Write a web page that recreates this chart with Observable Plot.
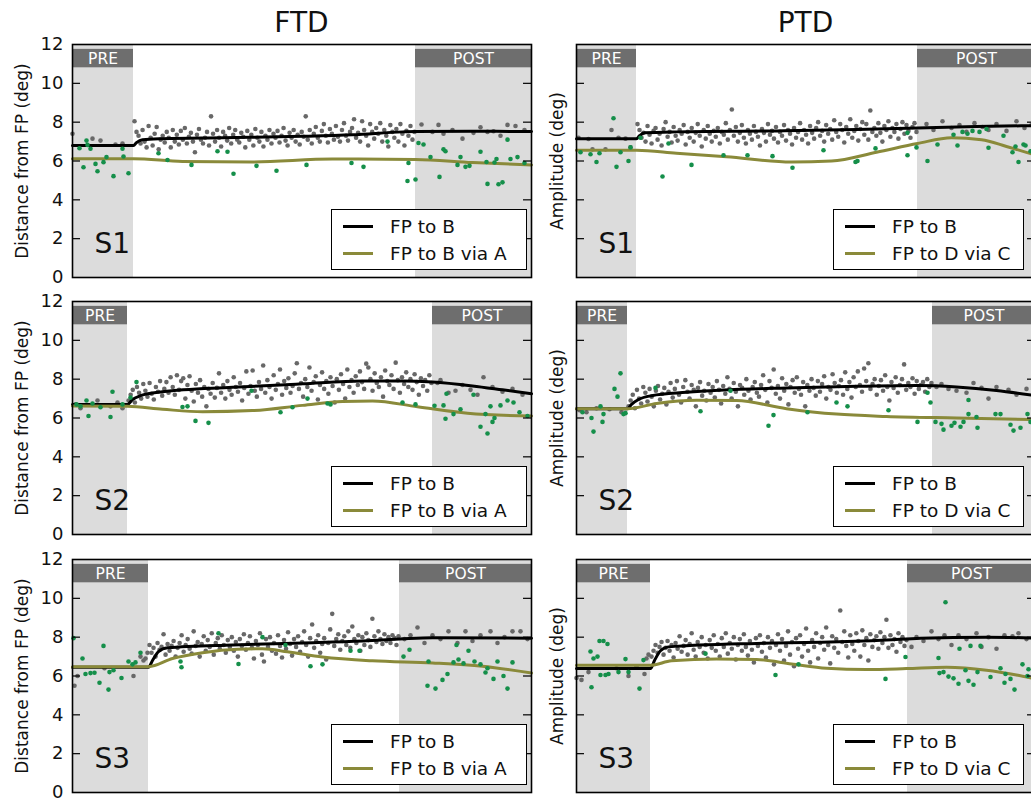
<!DOCTYPE html>
<html>
<head>
<meta charset="utf-8">
<script src="https://cdn.jsdelivr.net/npm/d3@7"></script>
<script src="https://cdn.jsdelivr.net/npm/@observablehq/plot@0.6"></script>
<style>
  html, body { margin: 0; padding: 0; background: #fff; overflow: hidden; }
  #root { position: relative; width: 1031px; height: 802px; overflow: hidden; font-family: "DejaVu Sans", sans-serif; }
  .title { position: absolute; top: 6px; font-size: 28px; color: #111; transform: translateX(-50%); }
  .ylab { position: absolute; font-size: 17px; color: #111; white-space: nowrap; transform: translate(-50%, -50%) rotate(-90deg); }
  .legend { position: absolute; background: #fff; border: 1.5px solid #000; box-sizing: border-box; }
  .legend .row { position: absolute; left: 0; height: 24px; display: flex; align-items: center; font-size: 18.5px; color: #111; white-space: nowrap; }
  .legend .sw { width: 30px; height: 3px; margin-left: 11px; margin-right: 17px; }
</style>
</head>
<body>
<div id="root"></div>
<script>
// ---------- shared ----------
const columnTitles = ["FTD", "PTD"];
const columnYLabels = ["Distance from FP (deg)", "Amplitude (deg)"];
const subjects = ["S1", "S2", "S3"];
const seriesNames = ["FP to B", "FP to B via A", "FP to D via C"];
const yTicks = [0, 2, 4, 6, 8, 10, 12];
const phaseNames = ["PRE", "POST"];
const trialDomain = [0, 459];

// ---------- FTD S1 ----------
const ftdS1Phase = [61, 343];
const ftdS1Black = [[0,6.8],[61,6.8],[64,6.95],[70,7.1],[90,7.15],[150,7.2],[230,7.27],[280,7.35],[330,7.5],[343,7.52],[400,7.53],[459,7.52]];
const ftdS1Olive = [[0,6.12],[61,6.12],[110,5.98],[180,5.95],[260,6.1],[343,6.08],[400,5.92],[459,5.8]];
const ftdS1GrayMain = [8.05,7.5,7.3,6.9,7.6,7.0,6.7,7.8,7.2,6.8,7.4,7.75,6.6,7.1,7.3,6.95,7.5,7.2,6.7,7.6,
7.0,7.35,6.85,7.55,7.1,7.7,6.9,7.25,7.45,7.0,6.45,7.35,7.65,7.1,6.9,7.2,7.5,6.8,8.3,7.4,
7.0,7.6,7.2,6.75,7.5,7.3,7.05,7.7,6.9,7.35,7.6,7.1,6.95,7.45,7.25,6.7,7.55,7.1,7.35,6.8,
7.65,7.2,7.0,7.5,6.75,7.3,7.1,7.6,6.9,7.4,7.2,7.55,6.95,7.3,7.7,7.05,6.8,7.45,7.2,7.6,
7.0,7.35,6.85,7.5,7.25,8.3,7.1,7.6,6.9,7.4,7.75,7.2,7.0,7.55,7.9,7.3,6.95,7.65,7.4,7.1,
7.8,7.25,7.0,7.6,7.95,7.3,7.05,7.5,7.7,8.15,7.2,7.45,7.0,8.05,7.6,7.3,6.8,7.9,7.5,7.15,
7.7,7.4,7.95,7.0,7.6,7.3,6.75,7.85,7.5,7.2,7.65,7.0,7.9,7.4,6.8,7.55,7.3,7.8,7.1,7.5];
const ftdS1GrayOther = [[0,7.4],[20,7.15],[28,7.05],[43,6.85],[50,6.9],[349,7.88],[360,7.5],[366,7.86],[371,7.4],[380,7.6],[390,7.15],[401,7.45],[408,7.74],[415,7.5],[421,7.53],[428,7.3],[435,7.86],[443,7.8],[452,7.6]];
const ftdS1Green = [[7,6.66],[11,5.68],[14,7.05],[15,6.83],[18,6.63],[23,5.85],[25,5.47],[31,5.94],[34,6.2],[41,5.22],[50,6.63],[51,6.23],[56,5.37],
[86,6.4],[95,6.05],[119,5.8],[145,6.5],[155,6.48],[161,5.34],[184,5.75],[204,5.5],[234,5.8],[279,5.9],[291,5.7],[315,7.0],[336,5.9],[335,4.97],[343,5.05],
[346,6.93],[351,6.85],[358,6.2],[367,5.18],[371,6.6],[373,6.5],[385,5.8],[388,6.2],[393,5.7],[397,5.75],[408,6.48],[414,5.95],[415,4.82],[422,5.92],[424,6.1],[426,4.8],[430,4.9],[435,7.1],[438,6.1],[445,6.2],[452,5.9]];

// ---------- PTD S1 ----------
const ptdS1Phase = [60, 341];
const ptdS1Black = [[0,7.15],[60,7.15],[63,7.3],[68,7.45],[100,7.5],[200,7.55],[280,7.62],[341,7.7],[400,7.78],[459,7.82]];
const ptdS1Olive = [[0,6.55],[60,6.55],[100,6.4],[150,6.22],[215,5.95],[255,6.0],[300,6.45],[341,6.9],[375,7.2],[405,7.1],[430,6.75],[459,6.3]];
const ptdS1GrayMain = [7.9,7.6,7.2,7.45,7.0,7.8,7.35,6.9,7.55,7.7,7.1,7.4,6.8,7.65,8.0,7.25,7.5,6.95,7.75,7.3,
7.05,7.6,7.4,7.85,6.85,7.5,7.2,7.7,7.0,7.45,7.9,7.3,6.75,7.6,7.15,7.8,7.4,7.0,7.55,7.25,
7.7,6.9,7.5,7.35,7.95,7.1,7.6,8.65,7.3,7.75,7.0,7.45,7.85,7.2,6.9,7.6,7.4,7.1,7.8,7.5,
7.25,6.8,7.65,7.45,7.0,7.9,7.35,7.55,7.15,7.75,6.95,7.5,7.3,7.85,7.05,7.6,7.4,6.85,7.7,7.2,
7.5,7.95,7.1,7.6,7.35,6.9,7.8,7.45,7.15,7.7,8.0,7.3,7.55,7.0,7.85,7.4,7.65,7.1,8.1,7.5,
7.25,7.9,7.6,6.95,7.75,7.4,8.15,7.2,7.55,7.8,7.05,7.65,8.0,7.35,7.9,7.1,8.6,7.5,7.7,7.3,
7.95,7.45,7.0,7.8,7.6,8.05,7.25,7.7,7.5,7.9,7.15,7.65,8.0,7.4,7.85,7.55,7.2,7.75,7.95,7.5];
const ptdS1GrayOther = [[2,7.2],[12,7.13],[16,6.6],[29,6.6],[35,7.6],[42,7.2],[49,7.15],[54,6.7],[350,7.9],[357,7.6],[366,8.05],[375,7.7],[383,7.85],[390,7.5],[398,7.95],[406,7.75],[412,7.6],[420,7.9],[430,7.55],[440,8.05],[448,7.7],[455,7.85]];
const ptdS1Green = [[4,6.45],[14,6.35],[20,5.95],[23,6.4],[37,8.2],[40,5.7],[44,6.45],[52,6.0],[54,6.7],
[64,7.2],[86,5.2],[92,6.9],[115,5.8],[147,6.3],[171,6.3],[196,6.25],[216,5.65],[247,6.55],[279,5.95],[281,6.0],[299,6.65],[331,7.45],[331,6.3],[340,6.7],
[351,6.0],[361,6.85],[377,7.35],[381,6.8],[386,7.5],[391,7.4],[396,7.55],[403,7.5],[410,7.65],[412,6.68],[427,7.3],[436,6.45],[439,6.75],[442,5.95],[447,6.85],[449,6.8],[454,6.5]];

// ---------- FTD S2 ----------
const ftdS2Phase = [55, 360];
const ftdS2Black = [[0,6.7],[55,6.7],[60,6.95],[68,7.15],[90,7.35],[160,7.58],[230,7.76],[290,7.9],[330,7.9],[360,7.85],[400,7.65],[430,7.45],[459,7.25]];
const ftdS2Olive = [[0,6.62],[55,6.6],[90,6.45],[130,6.32],[180,6.38],[230,6.65],[270,6.85],[300,6.88],[345,6.58],[395,6.25],[459,6.1]];
const ftdS2GrayMain = [6.9,7.2,7.45,6.8,7.6,7.3,7.0,7.75,7.4,7.1,7.8,7.25,6.95,7.6,7.35,7.9,7.15,7.5,7.85,7.3,
8.1,7.6,7.2,8.2,7.45,7.9,8.05,7.0,7.7,8.15,7.4,6.85,7.75,7.3,7.95,7.1,7.6,6.6,7.5,7.25,
7.8,7.05,7.55,8.3,7.3,7.7,7.0,7.9,7.45,7.2,8.1,7.6,7.35,7.8,6.9,7.55,8.4,7.25,7.65,8.45,
7.4,7.1,7.85,7.5,8.7,7.3,7.95,7.6,7.0,8.2,7.45,7.75,8.5,7.2,7.9,7.55,8.05,7.3,7.65,8.3,
8.82,7.5,7.8,7.1,8.0,7.6,8.6,7.4,7.85,8.15,6.95,7.7,8.35,7.5,7.9,7.25,8.1,7.65,6.8,8.0,
7.45,8.25,7.75,7.0,8.5,7.6,7.95,7.3,8.15,7.7,8.4,7.85,7.5,8.8,8.6,8.0,7.4,8.3,7.8,7.6,
8.1,7.1,8.45,7.9,7.7,8.2,7.5,8.85,7.95,7.3,8.1,7.75,8.35,7.6,8.0,7.45,8.25,7.85,7.2,8.05,
7.65,7.95,7.4,8.2,7.8];
const ftdS2GrayOther = [[3,6.7],[8,6.5],[25,6.9],[38,6.6],[45,6.8],[50,6.5],[365,7.8],[368,7.95],[376,7.3],[383,7.4],[390,7.7],[398,7.45],[405,7.2],[411,8.1],[420,7.6],[430,7.35],[440,7.5],[450,7.2]];
const ftdS2Green = [[4,6.7],[8,6.6],[14,6.9],[16,6.1],[20,6.75],[28,6.55],[38,6.05],[40,7.35],[50,6.7],[58,7.05],
[64,7.85],[110,6.57],[115,6.6],[123,5.85],[136,5.75],[179,7.4],[208,6.3],[220,6.55],[235,7.0],[255,6.75],[258,6.7],[330,6.8],[343,6.7],
[362,6.63],[371,6.65],[374,7.25],[373,5.96],[381,6.2],[388,6.45],[401,7.2],[408,5.55],[413,6.2],[415,5.2],[418,6.6],[420,5.8],[422,6.0],[428,6.65],[435,6.9],[441,6.8],[447,6.3],[455,6.1]];

// ---------- PTD S2 ----------
const ptdS2Phase = [51, 356];
const ptdS2Black = [[0,6.48],[51,6.48],[55,6.7],[62,6.95],[75,7.15],[110,7.32],[210,7.55],[280,7.63],[340,7.67],[380,7.6],[420,7.42],[459,7.15]];
const ptdS2Olive = [[0,6.48],[51,6.48],[80,6.75],[120,6.92],[160,6.9],[210,6.48],[260,6.2],[310,6.08],[380,6.0],[459,5.92]];
const ptdS2GrayMain = [6.6,6.9,7.2,6.5,7.45,7.0,6.75,7.6,7.3,6.85,7.5,7.1,6.6,7.4,7.65,6.95,7.25,7.55,6.7,7.35,
7.8,7.05,7.5,7.9,7.2,6.8,7.6,7.95,7.35,7.0,7.7,7.45,6.6,7.55,7.85,7.15,7.4,6.9,7.75,7.3,
7.6,7.05,7.9,7.45,6.75,7.65,7.25,8.1,7.5,7.0,7.8,7.35,6.6,7.7,7.55,7.2,8.0,7.4,6.95,7.6,
7.85,7.3,7.1,7.7,8.2,7.45,6.8,7.9,7.55,8.5,7.25,7.65,7.0,8.05,7.4,7.75,6.7,7.6,7.95,7.3,
8.1,7.5,7.2,7.85,6.6,7.7,7.4,8.0,7.55,7.15,7.9,7.35,7.75,8.15,7.0,7.6,7.45,8.25,7.8,7.3,
7.65,7.95,7.2,8.35,7.5,7.85,7.05,8.1,7.6,8.4,7.7,7.35,8.55,7.9,8.82,7.5,7.75,8.0,7.2,7.65,
7.95,7.4,8.2,7.6,6.9,7.85,7.55,8.1,7.3,7.7,8.0,8.76,7.45,7.8,7.6,8.05,7.25,7.9,7.5,7.7,
7.85,7.35,8.0,7.6,7.8];
const ptdS2GrayOther = [[3,6.4],[10,6.3],[20,6.5],[33,6.45],[45,6.3],[360,7.6],[365,7.75],[372,7.5],[380,7.4],[390,7.3],[397,7.8],[405,7.55],[412,7.0],[420,7.6],[432,7.45],[440,7.2],[450,7.5]];
const ptdS2Green = [[6,6.3],[15,6.0],[17,5.3],[24,6.6],[26,5.8],[27,6.2],[38,7.5],[41,7.1],[44,8.3],[47,6.2],[49,6.25],
[79,7.55],[124,6.35],[154,7.4],[192,5.6],[197,6.15],[231,6.3],[260,6.8],[271,6.6],[312,6.4],[341,5.8],[351,7.3],[354,6.8],
[359,5.8],[365,5.7],[367,5.4],[375,5.6],[378,5.75],[384,5.55],[387,5.8],[392,6.2],[392,6.93],[400,6.05],[401,5.5],[419,6.2],[424,6.2],[434,5.65],[437,5.35],[444,5.5],[451,6.2],[454,5.8]];

// ---------- FTD S3 ----------
const ftdS3Phase = [76, 327];
const ftdS3Black = [[0,6.45],[76,6.45],[80,6.8],[86,7.25],[95,7.45],[160,7.6],[230,7.7],[290,7.8],[327,7.9],[360,7.97],[459,7.95]];
const ftdS3Olive = [[0,6.48],[76,6.48],[100,6.9],[130,7.2],[165,7.38],[190,7.4],[215,7.25],[250,6.98],[300,6.78],[360,6.67],[410,6.5],[459,6.15]];
const ftdS3GrayMain = [7.6,7.2,7.45,7.0,7.7,7.35,7.5,8.15,7.1,7.65,7.3,7.55,7.8,7.0,7.45,7.7,8.1,7.25,7.6,7.9,
7.4,7.15,8.3,7.55,7.75,7.0,7.65,8.05,7.3,7.85,7.5,8.2,7.1,7.7,7.95,7.4,8.1,7.6,7.2,7.85,
7.5,8.0,7.3,7.75,7.0,7.9,7.55,8.15,7.35,7.7,8.05,7.45,6.9,7.8,7.6,8.2,7.1,6.75,7.9,7.5,
8.0,7.3,7.7,7.15,8.1,7.55,6.95,7.85,7.4,8.25,7.65,7.05,7.9,7.5,8.05,7.25,7.75,8.3,7.6,7.0,
7.95,8.65,7.45,7.8,8.1,7.2,7.65,7.95,6.85,7.7,8.4,9.2,7.55,7.9,8.15,7.35,7.8,8.05,7.6,8.3,
7.45,8.55,7.9,7.7,8.1,7.3,8.0,7.6,8.2,7.85,7.5,8.95,8.05,7.75,8.3,7.9,7.65,8.15,7.8,8.0,
7.7,8.1,7.95,7.6,8.05];
const ftdS3GrayOther = [[2,5.5],[5,6.0],[32,6.4],[61,6.0],[68,7.0],[71,6.8],[73,6.9],[75,7.2],[332,7.9],[338,8.1],[345,8.5],[352,7.7],[360,8.1],[368,7.9],[376,8.3],[385,7.7],[393,8.3],[400,7.8],[408,8.1],[418,8.3],[425,7.7],[432,8.0],[440,8.3],[448,8.3],[455,7.9]];
const ftdS3Green = [[1,7.95],[10,6.9],[13,6.1],[18,6.15],[22,6.17],[27,5.65],[31,7.55],[36,5.3],[37,6.2],[41,6.3],[49,5.9],[56,6.75],[60,6.6],[63,6.7],[68,7.2],
[108,6.75],[109,6.45],[146,8.2],[166,6.62],[190,8.0],[213,7.6],[238,6.5],[250,6.6],[278,7.3],[287,7.3],[331,7.0],
[337,7.35],[355,5.5],[356,6.75],[363,5.35],[370,5.8],[375,6.1],[381,6.7],[384,7.6],[386,6.85],[391,6.65],[396,7.3],[402,6.75],[408,6.6],[413,6.18],[415,6.4],[421,5.85],[425,6.75],[431,6.0],[435,5.35],[440,6.7]];

// ---------- PTD S3 ----------
const ptdS3Phase = [74, 331];
const ptdS3Black = [[0,6.38],[74,6.38],[78,6.8],[84,7.3],[92,7.5],[180,7.68],[245,7.74],[310,7.86],[344,7.95],[410,8.0],[459,7.95]];
const ptdS3Olive = [[0,6.55],[74,6.55],[95,6.78],[140,6.88],[180,6.85],[215,6.62],[250,6.4],[290,6.33],[330,6.38],[370,6.45],[410,6.3],[440,6.05],[459,5.85]];
const ptdS3GrayMain = [7.0,7.3,7.6,7.2,7.5,7.75,7.1,7.45,7.8,7.3,7.6,6.95,7.7,7.4,8.05,7.25,7.55,7.85,7.1,7.65,
8.2,7.35,7.0,7.75,7.5,8.0,7.2,7.6,6.9,7.85,7.45,8.1,7.3,7.65,7.0,7.95,7.5,8.2,7.15,7.7,
7.4,8.0,6.85,7.6,7.9,7.3,8.15,7.5,7.05,7.8,7.35,6.7,7.95,7.55,8.1,7.25,7.7,6.95,8.0,7.45,
7.8,6.6,7.6,8.15,7.3,7.9,6.8,7.55,8.3,7.1,7.75,6.5,7.95,7.4,8.1,7.0,7.65,8.45,7.3,6.7,
7.85,7.5,8.2,6.9,7.7,8.0,7.35,8.5,7.6,6.65,8.05,7.45,7.9,7.2,9.37,7.75,8.3,7.55,6.95,8.1,
7.65,7.3,8.2,7.8,7.0,8.35,7.6,7.95,6.8,8.15,7.5,7.85,8.05,7.4,8.25,7.7,8.0,8.9,7.45,8.1,
7.6,7.9,7.25,8.2,7.75,8.0,7.55,7.85];
const ptdS3GrayOther = [[0,5.9],[5,5.8],[12,6.2],[40,6.4],[52,6.0],[60,6.5],[68,6.1],[70,6.9],[72,7.1],[335,7.5],[340,8.0],[347,7.8],[355,8.3],[362,7.9],[368,8.1],[375,7.6],[382,8.1],[390,7.9],[400,8.2],[405,7.5],[412,8.0],[420,7.4],[428,8.1],[436,8.05],[442,8.2],[450,7.9]];
const ptdS3Green = [[14,7.26],[15,5.42],[17,6.9],[21,7.0],[23,7.8],[24,6.05],[27,7.8],[29,6.05],[31,7.65],[32,6.1],[42,6.2],[49,6.87],[52,6.2],[63,5.35],[67,6.82],
[129,7.15],[199,6.05],[222,6.6],[309,5.85],[329,6.98],
[362,6.93],[363,6.15],[367,6.2],[369,9.8],[372,5.97],[377,5.88],[382,5.6],[383,7.4],[389,6.3],[392,5.75],[394,7.55],[397,5.55],[401,6.2],[404,7.55],[414,5.95],[424,6.4],[428,5.65],[429,6.1],[434,5.85],[438,5.3],[446,6.6],[451,6.0],[452,6.35]];

// ---------- layout & style ----------
const rowTops = [44, 301, 559];
const colLefts = [72, 576];
const frameW = 459, frameH = 233;
const mL = 80, mR = 12, mT = 10, mB = 10;
const colors = {shade: "#dcdcdc", banner: "#6e6e6e", gray: "#686868", green: "#158f4a", black: "#000000", olive: "#8a8a3a"};

const panels = [
  {row:0, col:0, phase: ftdS1Phase, black: ftdS1Black, olive: ftdS1Olive, grayMain: ftdS1GrayMain, grayOther: ftdS1GrayOther, green: ftdS1Green},
  {row:0, col:1, phase: ptdS1Phase, black: ptdS1Black, olive: ptdS1Olive, grayMain: ptdS1GrayMain, grayOther: ptdS1GrayOther, green: ptdS1Green},
  {row:1, col:0, phase: ftdS2Phase, black: ftdS2Black, olive: ftdS2Olive, grayMain: ftdS2GrayMain, grayOther: ftdS2GrayOther, green: ftdS2Green},
  {row:1, col:1, phase: ptdS2Phase, black: ptdS2Black, olive: ptdS2Olive, grayMain: ptdS2GrayMain, grayOther: ptdS2GrayOther, green: ptdS2Green},
  {row:2, col:0, phase: ftdS3Phase, black: ftdS3Black, olive: ftdS3Olive, grayMain: ftdS3GrayMain, grayOther: ftdS3GrayOther, green: ftdS3Green},
  {row:2, col:1, phase: ptdS3Phase, black: ptdS3Black, olive: ptdS3Olive, grayMain: ptdS3GrayMain, grayOther: ptdS3GrayOther, green: ptdS3Green}
];

const root = document.getElementById("root");

columnTitles.forEach((t, c) => {
  const d = document.createElement("div");
  d.className = "title";
  d.textContent = t;
  d.style.left = (colLefts[c] + frameW / 2) + "px";
  root.appendChild(d);
});

panels.forEach(p => {
  const [pre, post] = p.phase;
  const [x0, x1] = trialDomain;
  const regions = [
    {name: phaseNames[0], a: x0, b: pre},
    {name: phaseNames[1], a: post, b: x1}
  ];
  const n = p.grayMain.length;
  const grayMainPts = p.grayMain.map((v, i) => [pre + (i + 0.5) * (post - pre) / n, v]);
  const grayPts = grayMainPts.concat(p.grayOther);
  const tickLen = 8;
  const isLeft = p.col === 0;

  const chart = Plot.plot({
    width: frameW + mL + mR,
    height: frameH + mT + mB,
    marginLeft: mL, marginRight: mR, marginTop: mT, marginBottom: mB,
    x: {domain: trialDomain, axis: null},
    y: isLeft
      ? {domain: [0, 12], ticks: yTicks, tickSize: 0, tickPadding: 9, label: null}
      : {domain: [0, 12], axis: null},
    style: {fontFamily: "DejaVu Sans", fontSize: "18px", color: "#111", background: "transparent", overflow: "visible"},
    marks: [
      Plot.rect(regions, {x1: "a", x2: "b", y1: () => 0, y2: () => 12, fill: colors.shade}),
      Plot.rect(regions, {x1: "a", x2: "b", y1: () => 10.8, y2: () => 11.75, fill: colors.banner}),
      Plot.text(regions, {x: d => (d.a + d.b) / 2, y: () => 11.27, text: "name", fill: "#fff", fontSize: 15.5}),
      Plot.dot(grayPts, {x: d => d[0], y: d => d[1], r: 2.3, fill: colors.gray, stroke: null}),
      Plot.line(p.black, {x: d => d[0], y: d => d[1], stroke: colors.black, strokeWidth: 3, curve: "monotone-x"}),
      Plot.line(p.olive, {x: d => d[0], y: d => d[1], stroke: colors.olive, strokeWidth: 3, curve: "monotone-x"}),
      Plot.dot(p.green, {x: d => d[0], y: d => d[1], r: 2.3, fill: colors.green, stroke: null}),
      Plot.ruleY(yTicks.slice(1, -1), {x1: () => x0, x2: () => x0 + tickLen, stroke: "#000", strokeWidth: 1.2}),
      Plot.ruleY(yTicks.slice(1, -1), {x1: () => x1 - tickLen, x2: () => x1, stroke: "#000", strokeWidth: 1.2}),
      Plot.text([subjects[p.row]], {frameAnchor: "bottom-left", dx: 22, dy: -25, textAnchor: "start", fontSize: 28, fill: "#111"}),
      Plot.frame({stroke: "#000", strokeWidth: 1.6})
    ]
  });
  chart.style.position = "absolute";
  chart.style.left = (colLefts[p.col] - mL) + "px";
  chart.style.top = (rowTops[p.row] - mT) + "px";
  root.appendChild(chart);

  // y label
  const yl = document.createElement("div");
  yl.className = "ylab";
  yl.textContent = columnYLabels[p.col];
  yl.style.left = (isLeft ? 22 : 557) + "px";
  yl.style.top = (rowTops[p.row] + frameH / 2) + "px";
  root.appendChild(yl);

  // legend
  const lg = document.createElement("div");
  lg.className = "legend";
  const lgLeft = isLeft ? colLefts[0] + 259 : colLefts[1] + 257;
  const lgWidth = isLeft ? 196 : 191;
  lg.style.left = lgLeft + "px";
  lg.style.top = (rowTops[p.row] + 165) + "px";
  lg.style.width = lgWidth + "px";
  lg.style.height = "61px";
  const items = [[seriesNames[0], colors.black], [isLeft ? seriesNames[1] : seriesNames[2], colors.olive]];
  items.forEach(([name, col], i) => {
    const r = document.createElement("div");
    r.className = "row";
    r.style.top = (4 + i * 27) + "px";
    const sw = document.createElement("span");
    sw.className = "sw";
    sw.style.background = col;
    const tx = document.createElement("span");
    tx.textContent = name;
    r.appendChild(sw);
    r.appendChild(tx);
    lg.appendChild(r);
  });
  root.appendChild(lg);
});
</script>
</body>
</html>
